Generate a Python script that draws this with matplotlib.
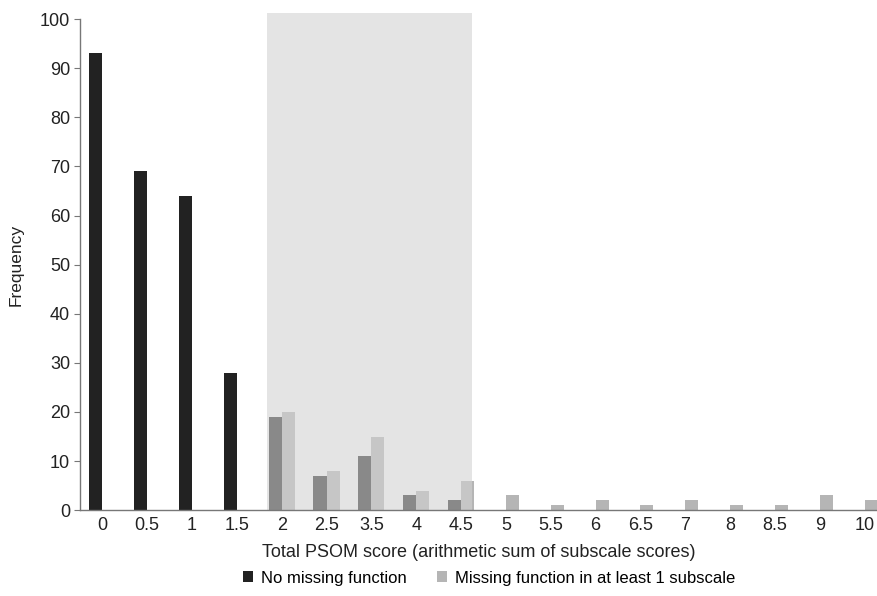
import numpy as np
import matplotlib
matplotlib.use("Agg")
import matplotlib.pyplot as plt

scores = ["0", "0.5", "1", "1.5", "2", "2.5", "3.5", "4", "4.5",
          "5", "5.5", "6", "6.5", "7", "8", "8.5", "9", "10"]
no_missing = [93, 69, 64, 28, 19, 7, 11, 3, 2, 0, 0, 0, 0, 0, 0, 0, 0, 0]
with_missing = [0, 0, 0, 0, 20, 8, 15, 4, 6, 3, 1, 2, 1, 2, 1, 1, 3, 2]
shaded_from, shaded_to = "2", "4.5"

plt.rcParams["font.family"] = ["Liberation Sans", "DejaVu Sans"]

fig = plt.figure(figsize=(8.78, 5.96), dpi=100)
ax = fig.add_axes([0.091, 0.144, 0.909, 0.824])

x = np.arange(len(scores))
w = 0.29
ax.bar(x - w / 2, no_missing, w, color="#222222", label="No missing function", zorder=1)
ax.bar(x + w / 2, with_missing, w, color="#b5b5b5",
       label="Missing function in at least 1 subscale", zorder=1)

# zona sombreada encima de las barras
i0, i1 = scores.index(shaded_from), scores.index(shaded_to)
ax.fill_between([i0 - 0.33, i1 + 0.25], 0, 101.2, color="#d2d2d2", alpha=0.59,
                linewidth=0, zorder=1.5, clip_on=False)

ax.set_xlim(-0.5, 17.3)
ax.set_ylim(0, 100)
ax.set_yticks(range(0, 101, 10))
ax.set_xticks(x)
ax.set_xticklabels(scores)
ax.tick_params(axis="x", length=0, pad=5, labelsize=13, colors="#222222")
ax.tick_params(axis="y", length=4, width=0.8, color="#777777", labelsize=13,
               labelcolor="#222222", pad=3)

for s in ["top", "right"]:
    ax.spines[s].set_visible(False)
for s in ["left", "bottom"]:
    ax.spines[s].set_color("#777777")
    ax.spines[s].set_linewidth(1.0)
    ax.spines[s].set_zorder(3)

ax.set_xlabel("Total PSOM score (arithmetic sum of subscale scores)", fontsize=13,
              color="#222222", labelpad=7)
ax.set_ylabel("Frequency", fontsize=12.5, color="#222222", labelpad=12)

fig.legend(loc="center", bbox_to_anchor=(0.557, 0.03), ncol=2, frameon=False,
           fontsize=12, handlelength=0.6, handleheight=0.6, handletextpad=0.5,
           columnspacing=1.8)

fig.savefig("out.png", dpi=100)
